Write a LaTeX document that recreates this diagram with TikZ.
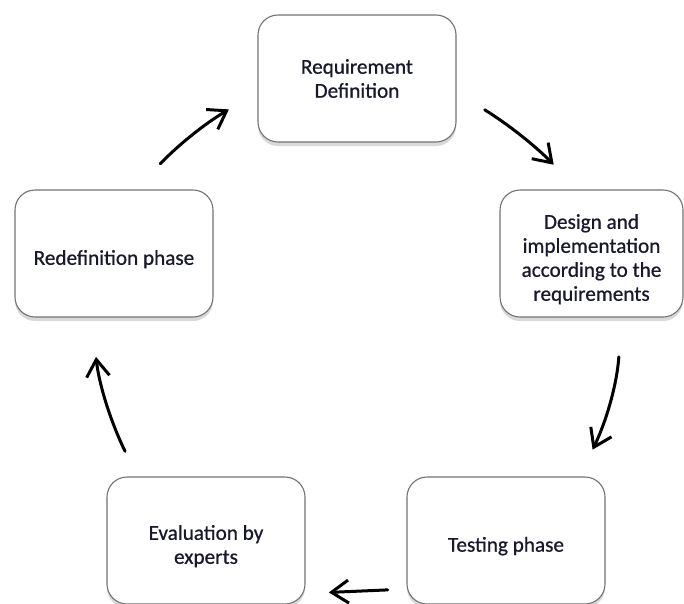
\documentclass[tikz,border=0pt]{standalone}
\usepackage{fontspec}
\setmainfont{Carlito}
\newfontfamily\phasefont[FakeBold=0.7]{Carlito}
\newcommand{\phaselift}{\rule{0pt}{26pt}}
\usetikzlibrary{
	arrows.meta,
	shadows
}
\definecolor{colborder}{RGB}{115,115,115}
\definecolor{coltext}{RGB}{25,25,45}
\tikzset{
	>={Straight Barb[length=17pt, width=23pt]},
	phasebox/.style={draw=colborder, line width=1.1pt, fill=white, rounded corners=20pt,
		minimum width=198pt, minimum height=127pt, align=center, text=coltext,
		font=\phasefont\fontsize{21.2}{24}\selectfont,
		drop shadow={shadow xshift=0pt, shadow yshift=-4pt, opacity=0.3}},
	cyclearrow/.style={->, line width=3pt, line cap=round}
}

\begin{document}
\begin{tikzpicture}[x=1pt, y=-1pt]
	\useasboundingbox (0,0) rectangle (684,603);
	\node[phasebox] (req) at (357,78.5) {Requirement\\Definition};
	\node[phasebox, minimum width=183pt] (design) at (591.5,253.5) {\phaselift Design and\\implementation\\according to the\\requirements};
	\node[phasebox] (test) at (506,540.5) {\phaselift Testing phase};
	\node[phasebox] (eval) at (206,540.5) {\phaselift Evaluation by\\experts};
	\node[phasebox] (redef) at (114,253.5) {\phaselift Redefinition phase};
	\foreach \from/\to/\afrom/\ato/\sfrom/\sto/\bend in {
		redef/req/71.4/188/35.3/33.2/8,
		req/design/352/102.9/33/34.6/7,
		design/test/295.8/41.4/39.4/29.8/11,
		test/eval/206.7/332.5/18.7/23.3/0,
		eval/redef/137.4/251/28/39.5/10} {
		\draw[cyclearrow, shorten <=\sfrom pt, shorten >=\sto pt] (\from.\afrom) to[bend left=\bend] (\to.\ato);
	}
\end{tikzpicture}
\end{document}
